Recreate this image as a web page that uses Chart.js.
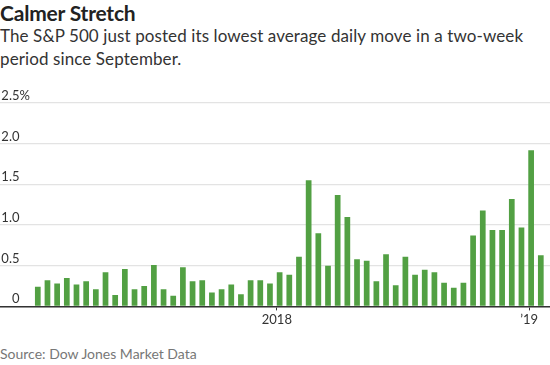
<!DOCTYPE html>
<html>
<head>
<meta charset="utf-8">
<script src="https://cdn.jsdelivr.net/npm/chart.js@4"></script>
<style>
  html, body { margin: 0; padding: 0; background: #fff; }
  body { width: 550px; height: 365px; position: relative; overflow: hidden; font-family: Lato, "Noto Sans", sans-serif; }
  #title { position: absolute; left: 0; top: 0px; font-size: 21px; font-weight: bold; color: #222; letter-spacing: -0.2px; }
  #sub { position: absolute; left: 0; top: 25px; font-size: 17px; line-height: 22.5px; color: #333; width: 550px; letter-spacing: 0.1px; }
  #wrap { position: absolute; left: 0; top: 88px; width: 550px; height: 242px; }
  #src { position: absolute; left: 0; top: 345px; font-size: 14px; color: #777; }
</style>
</head>
<body>
<div id="title">Calmer Stretch</div>
<div id="sub">The S&amp;P 500 just posted its lowest average daily move in a two-week<br>period since September.</div>
<div id="wrap"><canvas id="c"></canvas></div>
<div id="src">Source: Dow Jones Market Data</div>
<script>
// Two-week periods (dates at which bars are plotted)
const periods = [
  '2017-01-20','2017-02-03','2017-02-17','2017-03-03','2017-03-17','2017-03-31','2017-04-14','2017-04-28',
  '2017-05-12','2017-05-26','2017-06-09','2017-06-23','2017-07-07','2017-07-21','2017-08-04','2017-08-18',
  '2017-09-01','2017-09-15','2017-09-29','2017-10-13','2017-10-27','2017-11-10','2017-11-24','2017-12-08',
  '2017-12-22','2018-01-05','2018-01-19','2018-02-02','2018-02-16','2018-03-02','2018-03-16','2018-03-30',
  '2018-04-13','2018-04-27','2018-05-11','2018-05-25','2018-06-08','2018-06-22','2018-07-06','2018-07-20',
  '2018-08-03','2018-08-17','2018-08-31','2018-09-14','2018-09-28','2018-10-12','2018-10-26','2018-11-09',
  '2018-11-23','2018-12-07','2018-12-21','2019-01-04','2019-01-18'
];
// Average daily move, %
const avgMove = [
  0.24, 0.32, 0.28, 0.35, 0.27, 0.31, 0.21, 0.42,
  0.14, 0.46, 0.21, 0.25, 0.51, 0.21, 0.13, 0.48,
  0.31, 0.32, 0.17, 0.21, 0.27, 0.15, 0.32, 0.32,
  0.28, 0.42, 0.39, 0.61, 1.55, 0.90, 0.50, 1.37,
  1.10, 0.58, 0.56, 0.31, 0.64, 0.26, 0.61, 0.39,
  0.45, 0.42, 0.29, 0.23, 0.29, 0.87, 1.18, 0.94,
  0.94, 1.32, 0.97, 1.92, 0.63
];
const yTicks = [0, 0.5, 1.0, 1.5, 2.0, 2.5];
const yTickLabels = ['0', '0.5', '1.0', '1.5', '2.0', '2.5'];
const xTickDates = ['2018-01-01', '2019-01-01'];
const xTickLabels = ['2018', '\u201919'];

const DAY = 864e5;
const toMs = s => Date.parse(s + 'T00:00:00Z');
const xMin = toMs('2017-01-20') - 54.7 * DAY;
const xMax = xMin + 796 * DAY;

const yLabelPlugin = {
  id: 'yLabels',
  afterDraw(chart) {
    const y = chart.scales.y;
    const ctx = chart.ctx;
    ctx.save();
    ctx.font = '13px Lato, "Noto Sans", sans-serif';
    ctx.fillStyle = '#333';
    ctx.textBaseline = 'alphabetic';
    y.ticks.forEach((t, i) => {
      const py = y.getPixelForValue(t.value);
      const idx = yTicks.indexOf(t.value);
      const lab = idx >= 0 ? yTickLabels[idx] : String(t.value);
      ctx.textAlign = 'right';
      ctx.fillText(lab, 19.5, py - 3);
      if (i === y.ticks.length - 1) {
        ctx.textAlign = 'left';
        ctx.fillText('%', 19.5, py - 3);
      }
    });
    ctx.restore();
  }
};

new Chart(document.getElementById('c'), {
  type: 'bar',
  data: {
    datasets: [{
      data: periods.map((p, i) => ({ x: toMs(p), y: avgMove[i] })),
      backgroundColor: '#52a043',
      borderWidth: 0,
      barPercentage: 0.59,
      categoryPercentage: 1.0
    }]
  },
  options: {
    responsive: true,
    maintainAspectRatio: false,
    animation: false,
    layout: { padding: { left: 0, right: 0, top: 15, bottom: 0 } },
    plugins: { legend: { display: false }, tooltip: { enabled: false } },
    scales: {
      x: {
        type: 'linear',
        offset: false,
        min: xMin,
        max: xMax,
        afterBuildTicks(scale) {
          scale.ticks = xTickDates.map(d => ({ value: toMs(d) }));
        },
        ticks: {
          autoSkip: false,
          maxRotation: 0,
          padding: 2,
          color: '#333',
          font: { family: 'Lato, "Noto Sans", sans-serif', size: 13 },
          callback: (v) => {
            const i = xTickDates.map(toMs).indexOf(v);
            return i >= 0 ? xTickLabels[i] : '';
          }
        },
        grid: { display: true, offset: false, drawOnChartArea: false, drawTicks: true, tickLength: 4, color: '#333', lineWidth: 1 },
        border: { display: true, color: '#333', width: 1.5 }
      },
      y: {
        min: 0,
        max: 2.5,
        afterBuildTicks(scale) {
          scale.ticks = yTicks.map(v => ({ value: v }));
        },
        ticks: { display: false },
        grid: { color: '#e3e3e3', lineWidth: 1.2, drawTicks: false },
        border: { display: false }
      }
    }
  },
  plugins: [yLabelPlugin]
});
</script>
</body>
</html>
